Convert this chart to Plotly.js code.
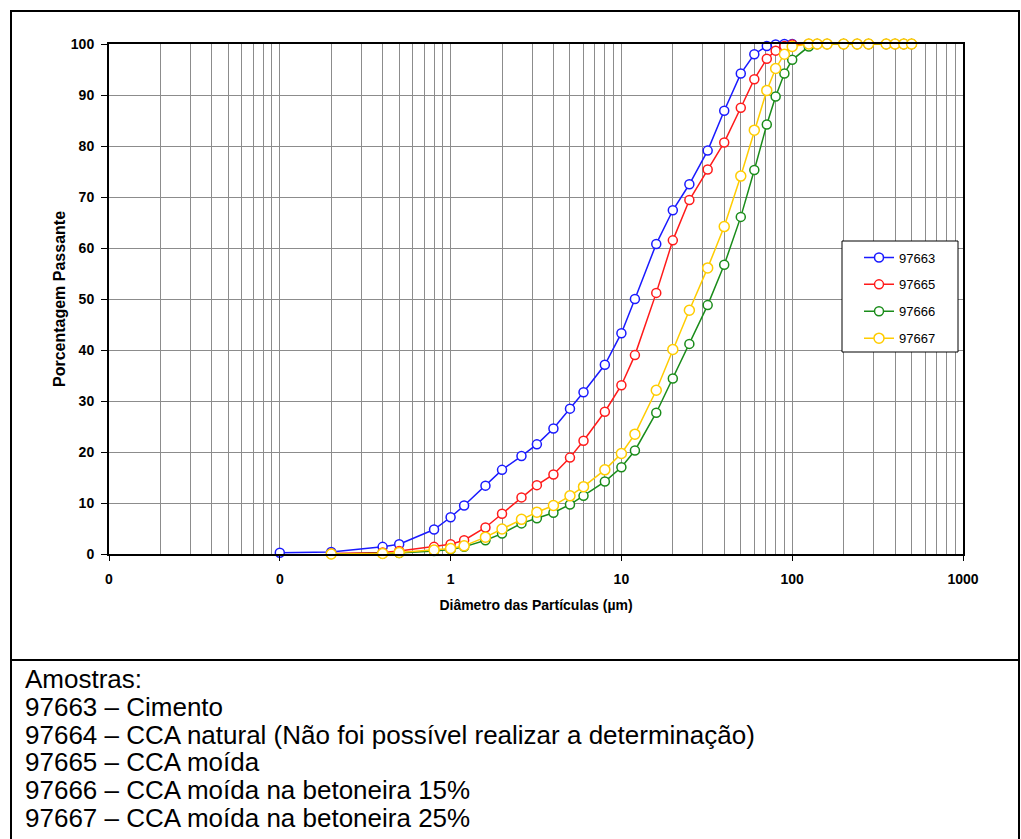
<!DOCTYPE html>
<html>
<head>
<meta charset="utf-8">
<script src="https://cdn.plot.ly/plotly-3.0.1.min.js"></script>
<style>html,body{margin:0;padding:0;background:#fff;}#chart{width:1021px;height:839px;}</style>
</head>
<body>
<div id="chart"></div>
<script>
// ---- data ----
const seriesNames = ["97663", "97665", "97666", "97667"];
const diamBlue = [0.1, 0.2, 0.4, 0.5, 0.8, 1.0, 1.2, 1.6, 2.0, 2.6, 3.2, 4, 5, 6, 8, 10, 12, 16, 20, 25, 32, 40, 50, 60, 71, 80, 90, 100, 125, 140, 160, 200, 240, 280, 355, 400, 450, 500];
const diam = [0.2, 0.4, 0.5, 0.8, 1.0, 1.2, 1.6, 2.0, 2.6, 3.2, 4, 5, 6, 8, 10, 12, 16, 20, 25, 32, 40, 50, 60, 71, 80, 90, 100, 125, 140, 160, 200, 240, 280, 355, 400, 450, 500];
const pass97663 = [0.25, 0.4, 1.4, 1.9, 4.8, 7.2, 9.5, 13.4, 16.5, 19.2, 21.5, 24.6, 28.5, 31.7, 37.1, 43.3, 50.0, 60.8, 67.4, 72.5, 79.1, 86.9, 94.2, 98.0, 99.6, 99.9, 100, 100, 100, 100, 100, 100, 100, 100, 100, 100, 100, 100];
const pass97665 = [0.1, 0.3, 0.6, 1.4, 1.9, 2.7, 5.2, 7.9, 11.1, 13.5, 15.6, 18.9, 22.2, 27.9, 33.1, 39.0, 51.2, 61.5, 69.4, 75.4, 80.7, 87.5, 93.1, 97.1, 98.7, 99.6, 99.9, 100, 100, 100, 100, 100, 100, 100, 100, 100, 100];
const pass97666 = [0.0, 0.1, 0.2, 0.6, 0.9, 1.4, 2.7, 4.0, 6.0, 7.0, 8.1, 9.7, 11.4, 14.2, 17.0, 20.3, 27.7, 34.4, 41.2, 48.8, 56.7, 66.1, 75.3, 84.2, 89.7, 94.2, 96.9, 99.5, 100, 100, 100, 100, 100, 100, 100, 100, 100];
const pass97667 = [0.0, 0.1, 0.3, 0.8, 1.1, 1.6, 3.3, 4.9, 6.8, 8.2, 9.5, 11.4, 13.2, 16.5, 19.7, 23.5, 32.1, 40.1, 47.8, 56.1, 64.2, 74.1, 83.1, 90.9, 95.2, 98.0, 99.5, 100, 100, 100, 100, 100, 100, 100, 100, 100, 100];
const xTickVals = [0.01, 0.1, 1, 10, 100, 1000];
const xTickText = ["0", "0", "1", "10", "100", "1000"];
const xTitle = "Diâmetro das Partículas (µm)";
const yTitle = "Porcentagem Passante";
const notes = [
  "Amostras:",
  "97663 – Cimento",
  "97664 – CCA natural (Não foi possível realizar a determinação)",
  "97665 – CCA moída",
  "97666 – CCA moída na betoneira 15%",
  "97667 – CCA moída na betoneira 25%"
];

// ---- styles / layout ----
const FONT = "Liberation Sans, Arial, Helvetica, sans-serif";
const colors = ["#1a1aff", "#ff1a1a", "#1a8c1a", "#ffcc00"];
const msize = [9, 9, 9, 10];
const L = 109, R = 963, T = 44, B = 554, W = 1021, H = 839;
const pw = R - L, ph = B - T;
const px = v => (v - L) / pw;
const py = v => (B - v) / ph;

const xs = [diamBlue, diam, diam, diam];
const ys = [pass97663, pass97665, pass97666, pass97667];
const traces = seriesNames.map((n, i) => ({
  type: "scatter", mode: "lines+markers", name: n,
  legendgroup: "g" + i,
  x: xs[i], y: ys[i],
  line: {color: colors[i], width: 1.5},
  marker: {symbol: "circle", size: msize[i], color: "#ffffff", line: {color: colors[i], width: 1.5}},
  cliponaxis: false
}));

const minorVals = [];
for (let e = -2; e < 3; e++) for (let d = 2; d <= 9; d++) minorVals.push(d * Math.pow(10, e));

const annotations = notes.map((t, i) => ({
  xref: "paper", yref: "paper", x: px(23), y: py(679 + i * 27.8),
  xanchor: "left", yanchor: "middle", showarrow: false, text: t,
  font: {family: FONT, size: 26, color: "#000"}
}));

const shapes = [
  {type: "rect", xref: "paper", yref: "paper", x0: px(11), x1: px(1019), y0: py(11), y1: py(860), line: {color: "#000", width: 2}},
  {type: "line", xref: "paper", yref: "paper", x0: px(11), x1: px(1019), y0: py(660), y1: py(660), line: {color: "#000", width: 2}},
  {type: "rect", xref: "paper", yref: "paper", x0: px(842), x1: px(958), y0: py(241), y1: py(352), fillcolor: "#ffffff", line: {color: "#000", width: 1}, layer: "above"}
];

const layout = {
  width: W, height: H,
  margin: {l: L, r: W - R, t: T, b: H - B, pad: 0},
  paper_bgcolor: "#fff", plot_bgcolor: "#fff",
  font: {family: FONT, color: "#000"},
  showlegend: true,
  legend: {
    x: px(859), y: py(242.5), xanchor: "left", yanchor: "top",
    bgcolor: "rgba(0,0,0,0)", borderwidth: 0,
    font: {family: FONT, size: 13, color: "#000"},
    tracegroupgap: 7, traceorder: "grouped"
  },
  xaxis: {
    type: "log", range: [-2, 3],
    tickmode: "array", tickvals: xTickVals, ticktext: xTickText,
    ticks: "outside", ticklen: 5, tickcolor: "#000", tickwidth: 1,
    ticklabelstandoff: 6,
    tickfont: {family: FONT, size: 14, weight: "bold", color: "#000"},
    showgrid: true, gridcolor: "#8c8c8c", gridwidth: 1,
    minor: {tickmode: "array", tickvals: minorVals, showgrid: true, gridcolor: "#8c8c8c", gridwidth: 1, ticks: ""},
    showline: true, linecolor: "#000", linewidth: 2, mirror: true,
    zeroline: false,
    title: {text: xTitle, font: {family: FONT, size: 14, weight: "bold", color: "#000"}, standoff: 14}
  },
  yaxis: {
    range: [0, 100], dtick: 10, tick0: 0,
    ticks: "outside", ticklen: 6, tickcolor: "#000", tickwidth: 1,
    ticklabelstandoff: 4,
    tickfont: {family: FONT, size: 14, weight: "bold", color: "#000"},
    showgrid: true, gridcolor: "#8c8c8c", gridwidth: 1,
    showline: true, linecolor: "#000", linewidth: 2, mirror: true,
    zeroline: false,
    title: {text: yTitle, font: {family: FONT, size: 16, weight: "bold", color: "#000"}, standoff: 1}
  },
  annotations: annotations,
  shapes: shapes
};

Plotly.newPlot("chart", traces, layout, {displayModeBar: false, staticPlot: true});
</script>
</body>
</html>
